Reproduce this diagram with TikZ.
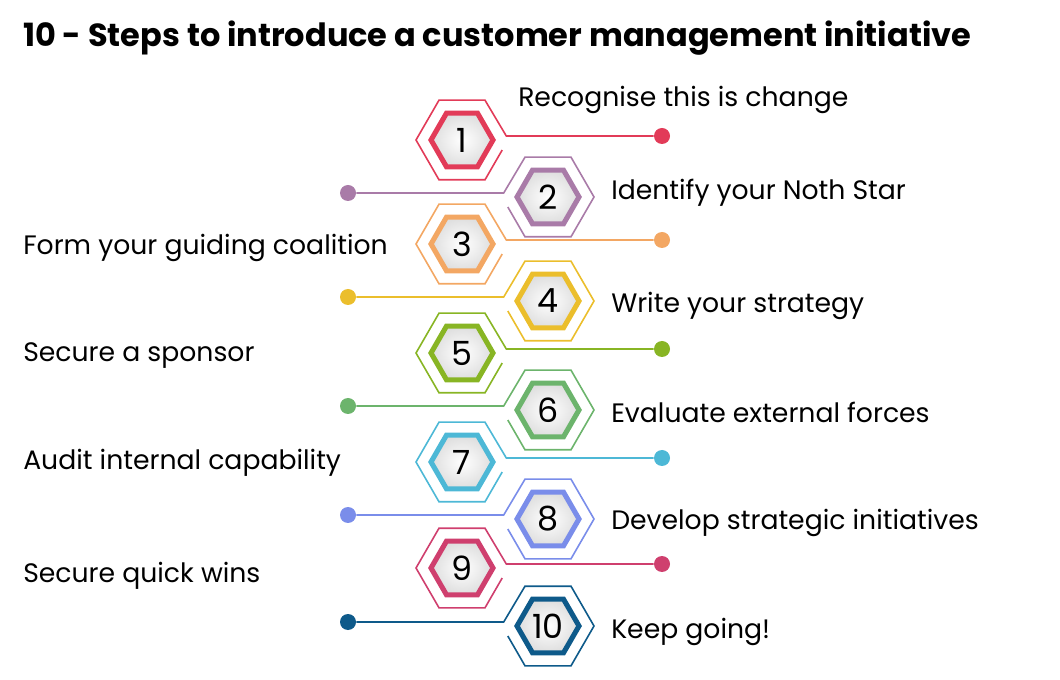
\documentclass[tikz,border=0pt]{standalone}
\usepackage{fontspec}
\setmainfont{Poppins}
\usetikzlibrary{calc}
\definecolor{stepA}{HTML}{E23B58}
\definecolor{stepB}{HTML}{A97BA8}
\definecolor{stepC}{HTML}{F3A763}
\definecolor{stepD}{HTML}{EBBE2C}
\definecolor{stepE}{HTML}{88B524}
\definecolor{stepF}{HTML}{6CB46C}
\definecolor{stepG}{HTML}{4DB8D6}
\definecolor{stepH}{HTML}{7A8DEA}
\definecolor{stepI}{HTML}{CF3F6E}
\definecolor{stepJ}{HTML}{0E5A8A}
\tikzset{
  numtxt/.style={circle,inner sep=0pt,minimum size=20pt,font=\fontsize{25}{25}\selectfont},
  inhex/.style={line width=3.8pt,inner color=white,outer color=black!13},
  outline/.style={line width=1.2pt},
  dot/.style={circle,inner sep=0pt,minimum size=12pt},
  lbl/.style={anchor=base west,inner sep=0pt,font=\fontsize{20}{24}\selectfont},
}

\begin{document}
\begin{tikzpicture}[x=0.75pt,y=-0.75pt]
  \useasboundingbox (0,0) rectangle (1060,680);
  \node[anchor=base west,inner sep=0pt,font=\fontsize{24}{28}\selectfont\bfseries] (title) at (23,47)
    {10 - Steps to introduce a customer management initiative};
  % hexagons, connectors and dots
  \foreach \n/\cx/\cy/\s/\col in {1/462/140/1/stepA, 2/548/197/-1/stepB, 3/462/244/1/stepC,
      4/548/301/-1/stepD, 5/462/353/1/stepE, 6/548/410/-1/stepF, 7/462/462/1/stepG,
      8/548/519/-1/stepH, 9/462/568/1/stepI, 10/548/626/-1/stepJ}{
    \path[inhex,draw=\col] ({\cx+31},\cy) -- ++(120:31) -- ++(180:31) -- ++(240:31)
      -- ++(300:31) -- ++(0:31) -- cycle;
    \node[numtxt] (s\n) at (\cx,\cy) {\n};
    \coordinate (e\n) at ({\cx+\s*44.3},{\cy-4});
    \node[dot,fill=\col] (d\n) at ({\cx+\s*200},{\cy-4}) {};
    \draw[outline,\col] ({\cx+\s*40.2},{\cy+10}) -- ({\cx+\s*23},{\cy+39.8})
      -- ({\cx-\s*23},{\cy+39.8}) -- ({\cx-\s*46},\cy) -- ({\cx-\s*23},{\cy-39.8})
      -- ({\cx+\s*23},{\cy-39.8}) -- (e\n) -- (d\n);
  }
  % labels
  \node[lbl] (t1) at (518,107) {Recognise this is change};
  \node[lbl] (t2) at (611,200) {Identify your Noth Star};
  \node[lbl] (t3) at (23,255) {Form your guiding coalition};
  \node[lbl] (t4) at (611,313) {Write your strategy};
  \node[lbl] (t5) at (23,362) {Secure a sponsor};
  \node[lbl] (t6) at (611,423) {Evaluate external forces};
  \node[lbl] (t7) at (23,470) {Audit internal capability};
  \node[lbl] (t8) at (611,529) {Develop strategic initiatives};
  \node[lbl] (t9) at (23,582) {Secure quick wins};
  \node[lbl] (t10) at (611,638) {Keep going!};
\end{tikzpicture}
\end{document}
